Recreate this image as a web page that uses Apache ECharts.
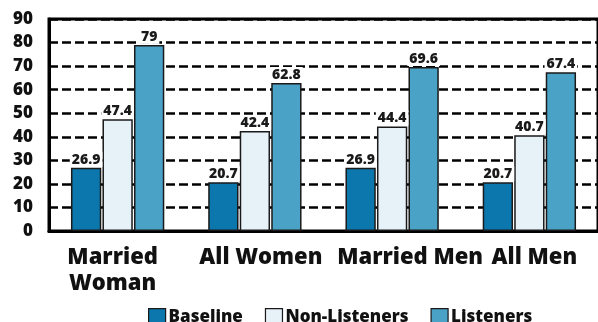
<!DOCTYPE html>
<html>
<head>
<meta charset="utf-8">
<script src="https://cdn.jsdelivr.net/npm/echarts@6/dist/echarts.min.js"></script>
<style>
  html, body { margin: 0; padding: 0; background: #fff; }
  #chart { width: 598px; height: 322px; }
</style>
</head>
<body>
<div id="chart"></div>
<script>
// Groups along the x axis
const categories = ['Married\nWoman', 'All Women', 'Married Men', 'All Men'];

// Percentages for each group
const baseline = [26.9, 20.7, 26.9, 20.7];
const nonListeners = [47.4, 42.4, 44.4, 40.7];
const listeners = [79, 62.8, 69.6, 67.4];

const seriesNames = ['Baseline', 'Non-Listeners', 'Listeners'];
const colors = ['#0b77ad', '#e6f1f8', '#4aa2c7'];

// horizontal nudge (px) for each category label
const labelShift = [-5, 6, 18, 5];

const font = 'Open Sans';

function barSeries(name, data, color) {
  return {
    name: name,
    type: 'bar',
    data: data,
    barGap: '4%',
    barCategoryGap: '32%',
    itemStyle: { color: color, borderColor: '#1a1a1a', borderWidth: 1.5 },
    label: {
      show: true,
      position: 'top',
      distance: 1,
      color: '#1a1a1a',
      fontFamily: font,
      fontWeight: 800,
      fontSize: 14,
      backgroundColor: '#fff',
      padding: [1, 2, 0, 2]
    }
  };
}

const categoryData = categories.map((c, i) => {
  const s = labelShift[i];
  return {
    value: c,
    textStyle: { padding: s >= 0 ? [0, 0, 0, 2 * s] : [0, -2 * s, 0, 0] }
  };
});

const chart = echarts.init(document.getElementById('chart'), null, { renderer: 'canvas' });
chart.setOption({
  animation: false,
  grid: {
    left: 49, right: -7, top: 19, bottom: 91,
    show: true, borderColor: '#000', borderWidth: 3, backgroundColor: 'transparent'
  },
  legend: {
    top: 303,
    left: 143,
    itemWidth: 17,
    itemHeight: 17,
    itemGap: 22,
    icon: 'rect',
    textStyle: { fontFamily: font, fontWeight: 800, fontSize: 17, color: '#111', padding: [0, 0, 0, -2] },
    data: seriesNames,
    itemStyle: { borderColor: '#1a1a1a', borderWidth: 1.2 }
  },
  xAxis: {
    type: 'category',
    data: categoryData,
    axisLine: { lineStyle: { color: '#000', width: 3 } },
    axisTick: { show: false },
    axisLabel: {
      color: '#111',
      fontFamily: font,
      fontWeight: 800,
      fontSize: 22,
      lineHeight: 26,
      margin: 14,
      interval: 0
    }
  },
  yAxis: {
    type: 'value',
    min: 0,
    max: 90,
    interval: 10,
    axisLine: { show: true, lineStyle: { color: '#000', width: 3 } },
    axisTick: { show: false },
    axisLabel: {
      color: '#111',
      fontFamily: font,
      fontWeight: 800,
      fontSize: 17,
      margin: 16
    },
    splitLine: { lineStyle: { color: '#000', width: 2.5, type: [9, 4] } }
  },
  series: [
    barSeries(seriesNames[0], baseline, colors[0]),
    barSeries(seriesNames[1], nonListeners, colors[1]),
    barSeries(seriesNames[2], listeners, colors[2])
  ]
});
</script>
</body>
</html>
